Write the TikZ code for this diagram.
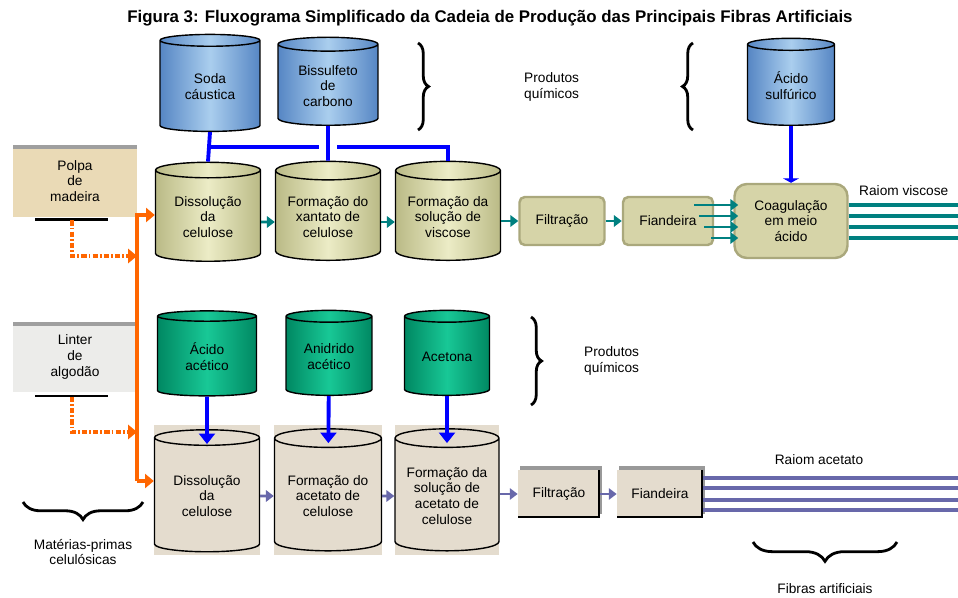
\documentclass[tikz,border=0pt]{standalone}
\usepackage{fontspec}
\setmainfont{Liberation Sans}
\usetikzlibrary{shapes, arrows.meta, positioning, calc, decorations.pathreplacing, shadows}

\definecolor{tankblue}{RGB}{86,134,196}
\definecolor{tankbluelt}{RGB}{170,206,238}
\definecolor{tankolive}{RGB}{186,186,134}
\definecolor{tankolivelt}{RGB}{236,236,198}
\definecolor{tankgreen}{RGB}{0,136,98}
\definecolor{tankgreenlt}{RGB}{24,200,150}
\definecolor{sand}{RGB}{228,220,206}
\definecolor{pulp}{RGB}{234,218,182}
\definecolor{cotton}{RGB}{236,236,234}
\definecolor{khaki}{RGB}{214,212,168}
\definecolor{khakidk}{RGB}{170,168,124}
\definecolor{feed}{RGB}{255,102,0}
\definecolor{flow}{RGB}{0,128,128}
\definecolor{flowacet}{RGB}{104,104,170}

\tikzset{
  lbl/.style={font=\fontsize{7.8}{9}\selectfont, align=center},
  tank/.style={cylinder, shape border rotate=90, aspect=0.22, draw=black, line width=0.8pt, lbl, inner sep=1pt},
  bluetank/.style={tank, left color=tankblue, right color=tankblue, middle color=tankbluelt},
  olivetank/.style={tank, left color=tankolive, right color=tankolive, middle color=tankolivelt},
  greentank/.style={tank, left color=tankgreen, right color=tankgreen, middle color=tankgreenlt},
  sandtank/.style={tank, fill=sand},
  plate/.style={rectangle, fill=sand, inner sep=0pt},
  procbox/.style={rectangle, rounded corners=3pt, fill=khaki, draw=khakidk, line width=1.4pt, lbl, minimum height=0.96cm},
  acetbox/.style={rectangle, fill=sand, lbl, minimum height=0.96cm,
    drop shadow={shadow xshift=0.04cm, shadow yshift=0.08cm, fill=gray!80, opacity=1},
    path picture={\draw[line width=2.4pt] (path picture bounding box.south west) -- (path picture bounding box.south east) -- (path picture bounding box.north east);}},
  rawbox/.style={rectangle, lbl, minimum width=2.48cm, minimum height=1.44cm,
    path picture={\fill[gray!75] (path picture bounding box.north west) rectangle ([yshift=-0.08cm]path picture bounding box.north east);}},
  chem/.style={draw=blue, line width=2.2pt},
  chemarr/.style={chem, -{Triangle[length=6pt,width=9pt]}},
  flowarr/.style={draw=flow, line width=1.6pt, -{Triangle[length=4.5pt,width=6.5pt]}},
  acetarr/.style={draw=flowacet, line width=1.6pt, -{Triangle[length=4.5pt,width=6.5pt]}},
  feedline/.style={draw=feed, line width=2.5pt},
  feeddot/.style={draw=feed, line width=2pt, dash pattern=on 3pt off 1.2pt on 1pt off 1.2pt},
  curly/.style={decorate, decoration={brace, amplitude=6pt}, line width=1.6pt},
}

\begin{document}
\begin{tikzpicture}[x=0.02cm, y=-0.02cm]
  \useasboundingbox (0,0) rectangle (958,598);

  \node[font=\bfseries\fontsize{9.6}{11}\selectfont] (title) at (490,18) {Figura 3: Fluxograma Simplificado da Cadeia de Produção das Principais Fibras Artificiais};

  % raw materials
  \node[rawbox, fill=pulp] (polpa) at (75,181) {Polpa\\de\\madeira};
  \node[rawbox, fill=cotton, minimum height=1.42cm] (linter) at (75,357) {Linter\\de\\algodão};
  \draw[line width=1.4pt] ($(polpa.south)+(-40,2)$) -- ($(polpa.south)+(33,2)$);
  \draw[line width=1.4pt] ($(linter.south)+(-40,3)$) -- ($(linter.south)+(33,3)$);

  % viscose line
  \node[bluetank, minimum width=2cm, minimum height=1.94cm] (soda) at (210,87) {Soda\\cáustica};
  \node[bluetank, minimum width=2cm, minimum height=1.76cm] (bissulf) at (328,86) {Bissulfeto\\de\\carbono};
  \node[bluetank, minimum width=1.74cm, minimum height=1.74cm] (sulf) at (791,86) {Ácido\\sulfúrico};

  \node[olivetank, minimum width=2.1cm, minimum height=1.98cm] (diss1) at (208,217) {Dissolução\\da\\celulose};
  \node[olivetank, minimum width=2.1cm, minimum height=1.98cm] (xant) at (328,217) {Formação do\\xantato de\\celulose};
  \node[olivetank, minimum width=2.1cm, minimum height=1.98cm] (visc) at (448,217) {Formação da\\solução de\\viscose};

  \node[procbox, minimum width=1.7cm] (filt1) at (562,221) {Filtração};
  \node[procbox, minimum width=1.8cm] (fian1) at (668,221) {Fiandeira};
  \node[procbox, rounded corners=7pt, minimum width=2.26cm, minimum height=1.48cm] (coag) at (791,221) {Coagulação\\em meio\\ácido};

  % acetate line
  \node[greentank, minimum width=1.98cm, minimum height=1.7cm] (acac) at (207,357) {Ácido\\acético};
  \node[greentank, minimum width=1.72cm, minimum height=1.7cm] (anid) at (329,357) {Anidrido\\acético};
  \node[greentank, minimum width=1.7cm, minimum height=1.7cm] (acet) at (447,357) {Acetona};

  \node[plate, minimum width=2.14cm, minimum height=2.6cm] (plA) at (207,490) {};
  \node[plate, minimum width=2.18cm, minimum height=2.6cm] (plB) at (328,490) {};
  \node[plate, minimum width=2.1cm, minimum height=2.6cm] (plC) at (447,490) {};
  \node[sandtank, minimum width=2.1cm, minimum height=2.44cm] (diss2) at (207,496) {Dissolução\\da\\celulose};
  \node[sandtank, minimum width=2.14cm, minimum height=2.44cm] (acetcel) at (328,496) {Formação do\\acetato de\\celulose};
  \node[sandtank, minimum width=2.08cm, minimum height=2.44cm] (solacet) at (447,496) {Formação da\\solução de\\acetato de\\celulose};

  \node[acetbox, minimum width=1.64cm] (filt2) at (559,494) {Filtração};
  \node[acetbox, minimum width=1.72cm] (fian2) at (660,494) {Fiandeira};

  % labels
  \node[lbl, anchor=west, align=left] (quim1) at (518,87) {Produtos\\químicos};
  \node[lbl, anchor=west, align=left] (quim2) at (578,361) {Produtos\\químicos};
  \node[lbl, anchor=west] (rvisc) at (853,191) {Raiom viscose};
  \node[lbl] (racet) at (819,460) {Raiom acetato};
  \node[lbl] (fibras) at (825,589) {Fibras artificiais};
  \node[lbl] (materias) at (83,552) {Matérias-primas\\celulósicas};

  % braces
  \draw[curly] (418,43) -- (418,130);
  \draw[curly] (693,130) -- (693,43);
  \draw[curly] (531,317) -- (531,405);
  \draw[curly, decoration={brace, amplitude=10pt}] (143,502) -- (23,502);
  \draw[curly, decoration={brace, amplitude=11pt}] (897,542) -- (753,542);

  % chemical feeds
  \coordinate (bus) at (0,147);
  \draw[chem] (soda.south) -- (diss1.north);
  \draw[chem] (soda.south |- bus) -- ($(bissulf.south |- bus)+(-9,0)$);
  \draw[chem] (bissulf.south) -- (xant.north);
  \draw[chem] ($(bissulf.south |- bus)+(9,0)$) -| (visc.north);
  \draw[chem, -{Triangle[length=2.5pt,width=9pt]}] (sulf) -- (coag);
  \draw[chemarr, shorten >=-0.3cm] (acac) -- (diss2);
  \draw[chemarr, shorten >=-0.3cm] (anid) -- (acetcel);
  \draw[chemarr, shorten >=-0.3cm] (acet) -- (solacet);

  % cellulose feeds
  \coordinate (feedtop) at (137,215);
  \coordinate (feedbot) at (137,481);
  \coordinate (j1) at (137,256);
  \coordinate (j2) at (137,432);
  \draw[feedline, -{Triangle[length=5pt,width=8pt]}] (feedbot) -- (feedtop) -- (diss1.west |- feedtop);
  \draw[feedline, -{Triangle[length=5pt,width=8pt]}] (feedbot) -- (diss2.west |- feedbot);
  \draw[feeddot, -{Triangle[length=5pt,width=8pt]}] ($(polpa.south)+(-3,3)$) |- (j1);
  \draw[feeddot, -{Triangle[length=5pt,width=8pt]}] ($(linter.south)+(-3,4)$) |- (j2);

  % viscose flow
  \draw[flowarr] ($(diss1.east)+(0,5)$) -- ($(xant.west)+(0,5)$);
  \draw[flowarr] ($(xant.east)+(0,5)$) -- ($(visc.west)+(0,5)$);
  \draw[flowarr] (visc.east |- filt1) -- (filt1);
  \draw[flowarr] (filt1) -- (fian1);
  \foreach \dy/\dx in {-16/-20, -5/-15, 6/-10, 17/-3}
    \draw[flowarr] ($(fian1.east)+(\dx,\dy)$) -- ($(coag.west)+(5,\dy)$);
  \foreach \dy in {-16, -5, 6, 17}
    \draw[draw=flow, line width=2.2pt] ($(coag.east)+(0,\dy)$) -- (958,221+\dy);

  % acetate flow
  \draw[acetarr] (diss2) -- (acetcel);
  \draw[acetarr] (acetcel) -- (solacet);
  \draw[acetarr] (solacet.east |- filt2) -- (filt2);
  \draw[acetarr] (filt2) -- (fian2);
  \foreach \dy in {-16, -6, 6, 16}
    \draw[draw=flowacet, line width=2.4pt] ($(fian2.east)+(0,\dy)$) -- (958,494+\dy);
\end{tikzpicture}
\end{document}
